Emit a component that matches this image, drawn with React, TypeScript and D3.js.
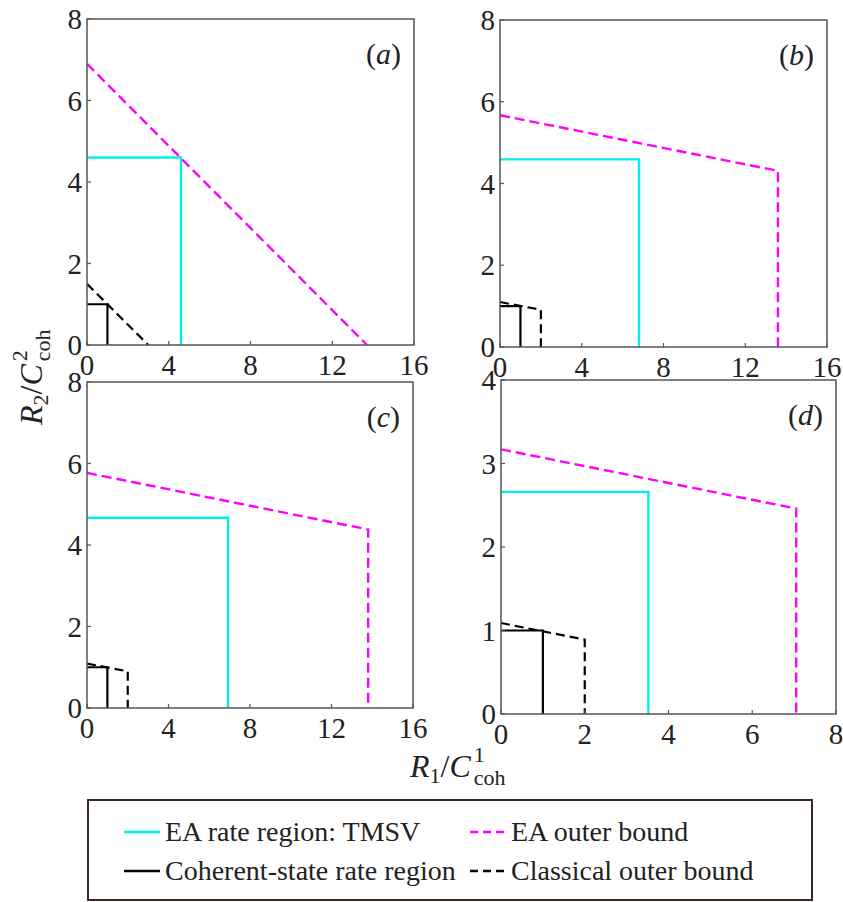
import React from "react";
import * as d3 from "d3";

// ---- data ----
const panelNames = ["a", "b", "c", "d"];
const xMaxes = [16, 16, 16, 8];
const yMaxes = [8, 8, 8, 4];
const xTickSets = [
  [0, 4, 8, 12, 16],
  [0, 4, 8, 12, 16],
  [0, 4, 8, 12, 16],
  [0, 2, 4, 6, 8],
];
const yTickSets = [
  [0, 2, 4, 6, 8],
  [0, 2, 4, 6, 8],
  [0, 2, 4, 6, 8],
  [0, 1, 2, 3, 4],
];
// EA rate region: TMSV (rectangle corner)
const tmsvR1 = [4.6, 6.8, 6.92, 3.52];
const tmsvR2 = [4.6, 4.59, 4.67, 2.66];
// EA outer bound: (0, start) -> (R1max, end) -> (R1max, 0)
const eaOuterR2Start = [6.9, 5.67, 5.77, 3.17];
const eaOuterR1Max = [13.7, 13.6, 13.8, 7.05];
const eaOuterR2End = [0, 4.31, 4.38, 2.46];
// Coherent-state rate region (rectangle corner)
const cohR1 = [1, 1, 1, 1];
const cohR2 = [1, 1, 1, 1];
// Classical outer bound
const classR2Start = [1.5, 1.1, 1.09, 1.09];
const classR1Max = [3, 2, 2, 2];
const classR2End = [0, 0.91, 0.9, 0.89];

const legendItems = [
  { label: "EA rate region: TMSV", color: "#00f0f0", dashed: false },
  { label: "EA outer bound", color: "#ff00ff", dashed: true },
  { label: "Coherent-state rate region", color: "#000000", dashed: false },
  { label: "Classical outer bound", color: "#000000", dashed: true },
];

// ---- layout ----
const W = 843;
const H = 902;
const boxes = [
  { x: 87, y: 19, w: 327, h: 326 },
  { x: 500, y: 20, w: 327, h: 327 },
  { x: 87, y: 382, w: 326, h: 326 },
  { x: 501, y: 380, w: 335, h: 334 },
];
const SERIF = "Liberation Serif, DejaVu Serif, serif";
const CYAN = "#00f0f0";
const MAGENTA = "#ff00ff";
const FRAME = "#555555";
const TXT = { fontFamily: SERIF } as React.CSSProperties;

function Panel({ i }: { i: number }) {
  const b = boxes[i];
  const x = d3.scaleLinear().domain([0, xMaxes[i]]).range([b.x, b.x + b.w]);
  const y = d3.scaleLinear().domain([0, yMaxes[i]]).range([b.y + b.h, b.y]);
  const line = d3
    .line<[number, number]>()
    .x((d) => x(d[0]))
    .y((d) => y(d[1]));

  const tmsv: [number, number][] = [
    [0, tmsvR2[i]],
    [tmsvR1[i], tmsvR2[i]],
    [tmsvR1[i], 0],
  ];
  const ea: [number, number][] = [
    [0, eaOuterR2Start[i]],
    [eaOuterR1Max[i], eaOuterR2End[i]],
    [eaOuterR1Max[i], 0],
  ];
  const coh: [number, number][] = [
    [0, cohR2[i]],
    [cohR1[i], cohR2[i]],
    [cohR1[i], 0],
  ];
  const cls: [number, number][] = [
    [0, classR2Start[i]],
    [classR1Max[i], classR2End[i]],
    [classR1Max[i], 0],
  ];

  const xt = xTickSets[i];
  const yt = yTickSets[i];

  return (
    <g>
      <path d={line(coh) || ""} fill="none" stroke="#000" strokeWidth={2.2} />
      <path
        d={line(cls) || ""}
        fill="none"
        stroke="#000"
        strokeWidth={2.2}
        strokeDasharray="9,5"
      />
      <path d={line(tmsv) || ""} fill="none" stroke={CYAN} strokeWidth={2.4} />
      <path
        d={line(ea) || ""}
        fill="none"
        stroke={MAGENTA}
        strokeWidth={2.4}
        strokeDasharray="10,5"
      />
      <rect
        x={b.x}
        y={b.y}
        width={b.w}
        height={b.h}
        fill="none"
        stroke={FRAME}
        strokeWidth={1.5}
      />
      {xt.map((t) => (
        <g key={"xt" + t}>
          <line
            x1={x(t)}
            x2={x(t)}
            y1={b.y + b.h}
            y2={b.y + b.h - 4}
            stroke={FRAME}
            strokeWidth={1.2}
          />
          <text
            x={x(t)}
            y={b.y + b.h + 30}
            textAnchor="middle"
            style={TXT}
            fontSize={29}
            fill="#222"
          >
            {t}
          </text>
        </g>
      ))}
      {yt.map((t) => (
        <g key={"yt" + t}>
          <line
            x1={b.x}
            x2={b.x + 4}
            y1={y(t)}
            y2={y(t)}
            stroke={FRAME}
            strokeWidth={1.2}
          />
          <text
            x={b.x - 5}
            y={y(t)}
            dy="0.35em"
            textAnchor="end"
            style={TXT}
            fontSize={29}
            fill="#222"
          >
            {t}
          </text>
        </g>
      ))}
      <text
        x={b.x + b.w - 13}
        y={b.y + 45}
        textAnchor="end"
        style={TXT}
        fontSize={30}
        fill="#222"
      >
        (<tspan fontStyle="italic">{panelNames[i]}</tspan>)
      </text>
    </g>
  );
}

function RateLabel({ idx }: { idx: string }) {
  return (
    <text style={TXT} fontSize={32} fill="#222">
      <tspan fontStyle="italic">R</tspan>
      <tspan fontSize={22} dy={6}>
        {idx}
      </tspan>
      <tspan dy={-6}>/</tspan>
      <tspan fontStyle="italic">C</tspan>
      <tspan fontSize={22} dx={3} dy={-15}>
        {idx}
      </tspan>
      <tspan fontSize={22} dx={-11} dy={23}>
        coh
      </tspan>
    </text>
  );
}

export default function App() {
  const lx = 88;
  const ly = 800;
  const lw = 724;
  const lh = 100;
  const rowY = [832, 871];
  const colX = [124, 470];
  const sampleW = 36;

  return (
    <svg
      width={W}
      height={H}
      style={{ position: "absolute", left: 0, top: 0, background: "#fff" }}
    >
      <rect x={0} y={0} width={W} height={H} fill="#fff" />
      {boxes.map((_, i) => (
        <Panel key={i} i={i} />
      ))}
      {/* axis labels */}
      <g transform="translate(410,777)">
        <RateLabel idx="1" />
      </g>
      <g transform="translate(42,425) rotate(-90)">
        <RateLabel idx="2" />
      </g>
      {/* legend */}
      <rect
        x={lx}
        y={ly}
        width={lw}
        height={lh}
        fill="#fff"
        stroke="#3a2626"
        strokeWidth={2}
      />
      {legendItems.map((it, k) => {
        const cx = colX[k % 2];
        const cy = rowY[Math.floor(k / 2)];
        return (
          <g key={it.label}>
            <line
              x1={cx}
              x2={cx + sampleW}
              y1={cy}
              y2={cy}
              stroke={it.color}
              strokeWidth={2.6}
              strokeDasharray={it.dashed ? "8,5" : undefined}
            />
            <text
              x={cx + sampleW + 5}
              y={cy + 9}
              style={TXT}
              fontSize={28}
              fill="#222"
            >
              {it.label}
            </text>
          </g>
        );
      })}
    </svg>
  );
}
